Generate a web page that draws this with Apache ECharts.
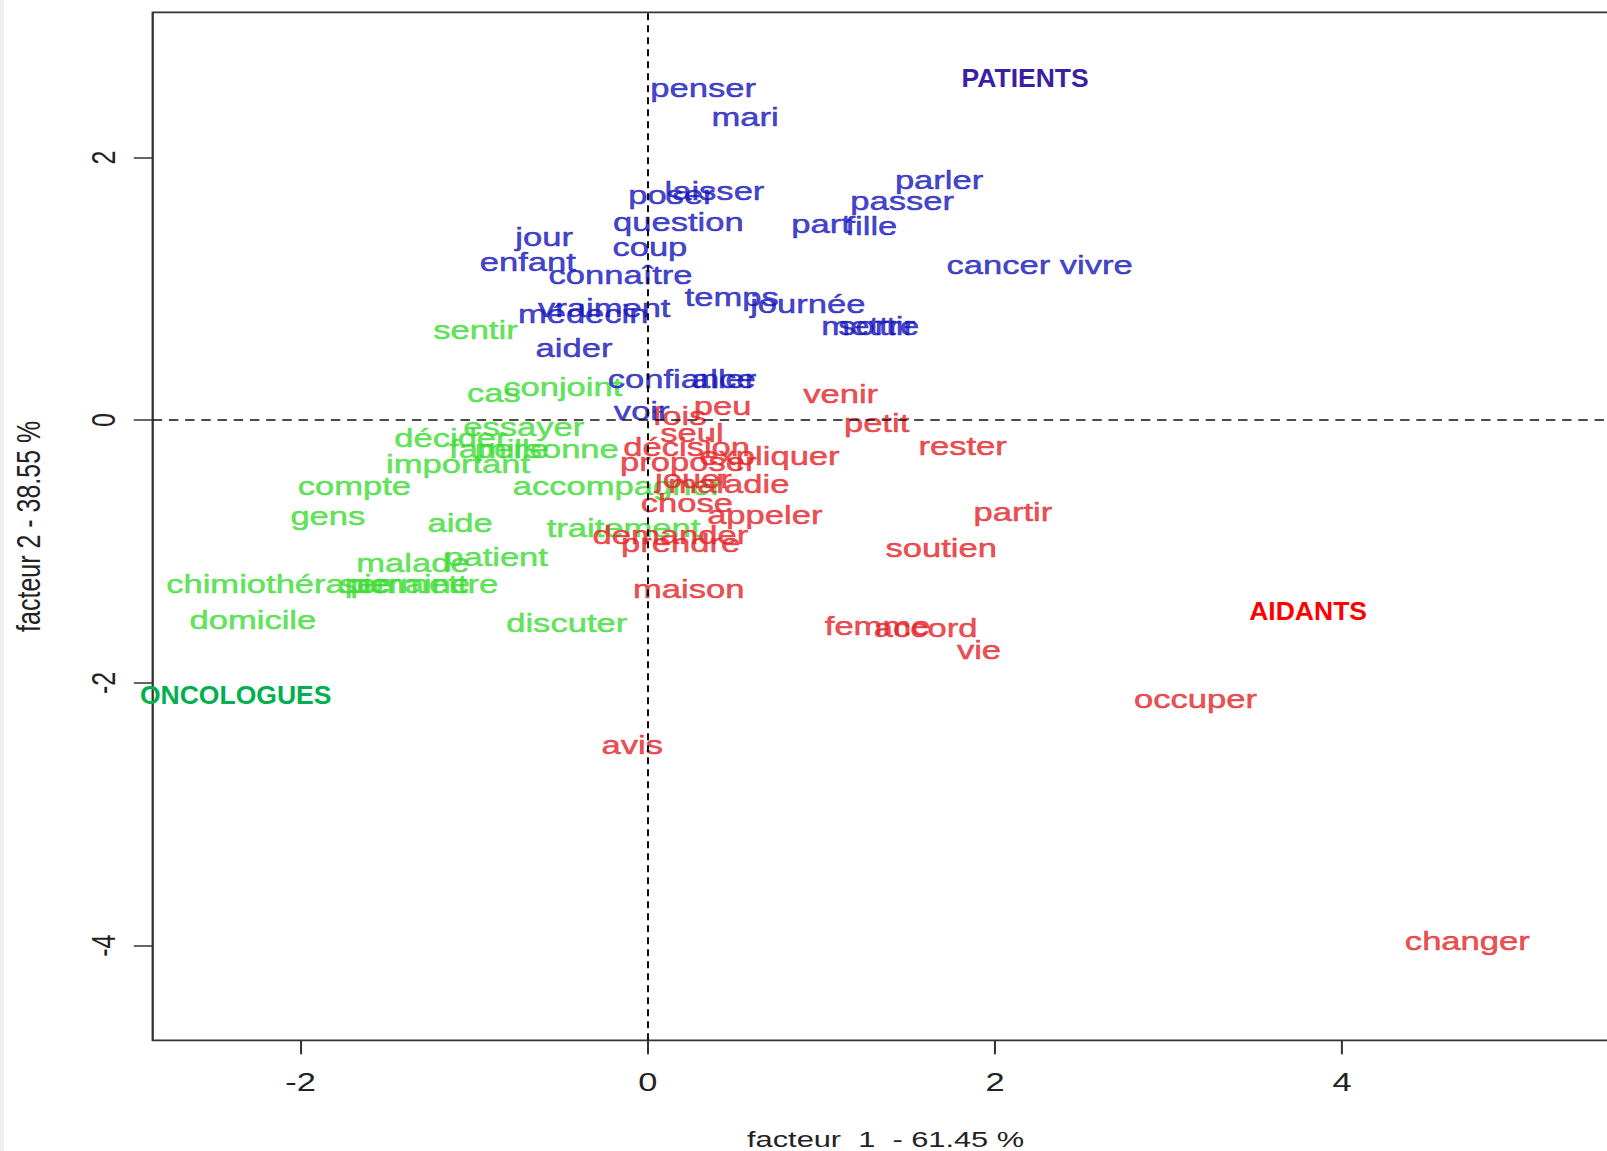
<!DOCTYPE html>
<html>
<head>
<meta charset="utf-8">
<script src="https://cdn.jsdelivr.net/npm/echarts@6/dist/echarts.min.js"></script>
<style>
html,body{margin:0;padding:0;background:#fff;overflow:hidden}
#wrap{width:1607px;height:1151px;position:relative;overflow:hidden;background:linear-gradient(to right,#efefef 0,#efefef 4px,#fff 4px)}
#chart{position:absolute;left:0;top:0;height:1151px;transform-origin:0 0}
</style>
</head>
<body>
<div id="wrap"><div id="chart"></div></div>
<script>
// ---- data ----
const xTicks = [-2, 0, 2, 4];
const yTicks = [-4, -2, 0, 2];

const patientWords = ['penser','mari','poser','laisser','question','coup','jour','enfant','connaître','temps','journée','vraiment','médecin','mettre','sortir','parler','passer','part','fille','cancer vivre','aider','confiance','aller','voir'];
const patientX = [0.319,0.561,0.136,0.384,0.176,0.012,-0.597,-0.691,-0.157,0.484,0.922,-0.251,-0.372,1.282,1.318,1.678,1.465,0.998,1.288,2.257,-0.425,0.195,0.437,-0.035];
const patientY = [2.528,2.309,1.716,1.748,1.514,1.319,1.397,1.209,1.108,0.936,0.889,0.858,0.811,0.718,0.718,1.834,1.670,1.498,1.482,1.186,0.554,0.312,0.312,0.070];

const oncoWords = ['sentir','cas','conjoint','essayer','décider','famille','personne','important','compte','accompagner','gens','aide','traitement','malade','patient','chimiothérapie','semaine','permettre','domicile','discuter'];
const oncoX = [-0.993,-0.886,-0.490,-0.715,-1.134,-0.857,-0.582,-1.093,-1.690,-0.175,-1.843,-1.081,-0.140,-1.353,-0.874,-2.127,-1.400,-1.288,-2.275,-0.467];
const oncoY = [0.687,0.211,0.257,-0.047,-0.133,-0.218,-0.218,-0.328,-0.499,-0.499,-0.726,-0.780,-0.819,-1.085,-1.038,-1.248,-1.248,-1.248,-1.521,-1.545];

const aidantWords = ['venir','peu','fois','petit','seul','rester','décision','expliquer','proposer','jouer','maladie','chose','appeler','demander','prendre','partir','soutien','maison','femme','accord','vie','occuper','avis','changer'];
const aidantX = [1.111,0.431,0.183,1.318,0.254,1.814,0.224,0.701,0.233,0.263,0.467,0.225,0.674,0.130,0.189,2.103,1.690,0.236,1.324,1.601,1.908,3.155,-0.089,4.721];
const aidantY = [0.203,0.109,0.031,-0.023,-0.094,-0.195,-0.203,-0.273,-0.320,-0.445,-0.484,-0.632,-0.718,-0.874,-0.936,-0.694,-0.975,-1.287,-1.568,-1.584,-1.748,-2.122,-2.473,-3.963];

const groupNames = ['PATIENTS','AIDANTS','ONCOLOGUES'];
const groupX = [2.174, 3.804, -2.374];
const groupY = [2.606, -1.451, -2.091];
const groupColors = ['#3b1fa3', '#ff0000', '#00b050'];

const xTitle = 'facteur  1  - 61.45 %';
const yTitle = 'facteur 2 - 38.55 %';

// ---- layout (the original picture is stretched horizontally) ----
const S = 1.35;
const W = 1660 / S;             // drawing wider than the window; the right box edge falls outside
const el = document.getElementById('chart');
el.style.width = W + 'px';
el.style.transform = 'scaleX(' + S + ')';

const FONT = '"Liberation Sans", Arial, sans-serif';
const wordSize = 25.6;

function pts(words, xs, ys) { return words.map((w, i) => [xs[i], ys[i], w]); }
function wordSeries(name, data, color, extra) {
  return Object.assign({
    name, type: 'scatter', data, symbolSize: 0, silent: true, clip: false,
    itemStyle: { color },
    label: { show: true, position: 'inside', formatter: p => p.data[2], color,
             fontSize: wordSize, fontFamily: FONT,
             textBorderColor: color, textBorderWidth: 0.5 },
    emphasis: { disabled: true }
  }, extra || {});
}

const chart = echarts.init(el, null, { renderer: 'svg' });
chart.setOption({
  animation: false,
  backgroundColor: 'transparent',
  grid: { left: 152.7 / S, right: W - 1618 / S, top: 12.3, bottom: 1151 - 1040.3,
          outerBoundsMode: 'none', containLabel: false,
          show: true, borderColor: '#333', borderWidth: 1.7, backgroundColor: 'transparent' },
  xAxis: {
    type: 'value', min: -2.852, max: 5.592, position: 'bottom',
    splitLine: { show: false }, axisLine: { show: false, onZero: false },
    axisTick: { show: true, length: 14, customValues: xTicks, lineStyle: { color: '#333', width: 1.5 } },
    axisLabel: { customValues: xTicks, fontSize: 25.5, fontFamily: FONT, color: '#222', margin: 29 },
    name: xTitle, nameLocation: 'middle', nameGap: 87,
    nameTextStyle: { fontSize: 22.8, fontFamily: FONT, color: '#222' }
  },
  yAxis: {
    type: 'value', min: -4.721, max: 3.105, position: 'left',
    splitLine: { show: false }, axisLine: { show: false, onZero: false },
    axisTick: { show: true, length: 14, customValues: yTicks, lineStyle: { color: '#333', width: 1.5 } },
    axisLabel: { customValues: yTicks, rotate: 90, fontSize: 25, fontFamily: FONT, color: '#222', margin: 24 },
    name: yTitle, nameLocation: 'middle', nameRotate: 90, nameGap: 80,
    nameTextStyle: { fontSize: 25, fontFamily: FONT, color: '#222' }
  },
  series: [
    wordSeries('ONCOLOGUES', pts(oncoWords, oncoX, oncoY), '#3cdc34', {
      markLine: {
        silent: true, symbol: ['none', 'none'], label: { show: false },
        lineStyle: { color: '#111', width: 1.5, type: [7, 5] },
        data: [{ xAxis: 0 }, { yAxis: 0 }]
      }
    }),
    wordSeries('AIDANTS', pts(aidantWords, aidantX, aidantY), '#e42428'),
    wordSeries('PATIENTS', pts(patientWords, patientX, patientY), '#1414bc')
  ]
});

// group annotations: positioned through the chart's own scales, un-stretched
const graphics = groupNames.map((g, i) => {
  const p = chart.convertToPixel({ gridIndex: 0 }, [groupX[i], groupY[i]]);
  return {
    type: 'text', x: p[0], y: p[1], scaleX: 1 / S, silent: true, z: 100,
    style: { text: g, fill: groupColors[i], align: 'center', verticalAlign: 'middle',
             textAlign: 'center', textVerticalAlign: 'middle',
             font: 'bold 26.5px "Liberation Sans", Arial, sans-serif' }
  };
});
chart.setOption({ graphic: graphics });
</script>
</body>
</html>
